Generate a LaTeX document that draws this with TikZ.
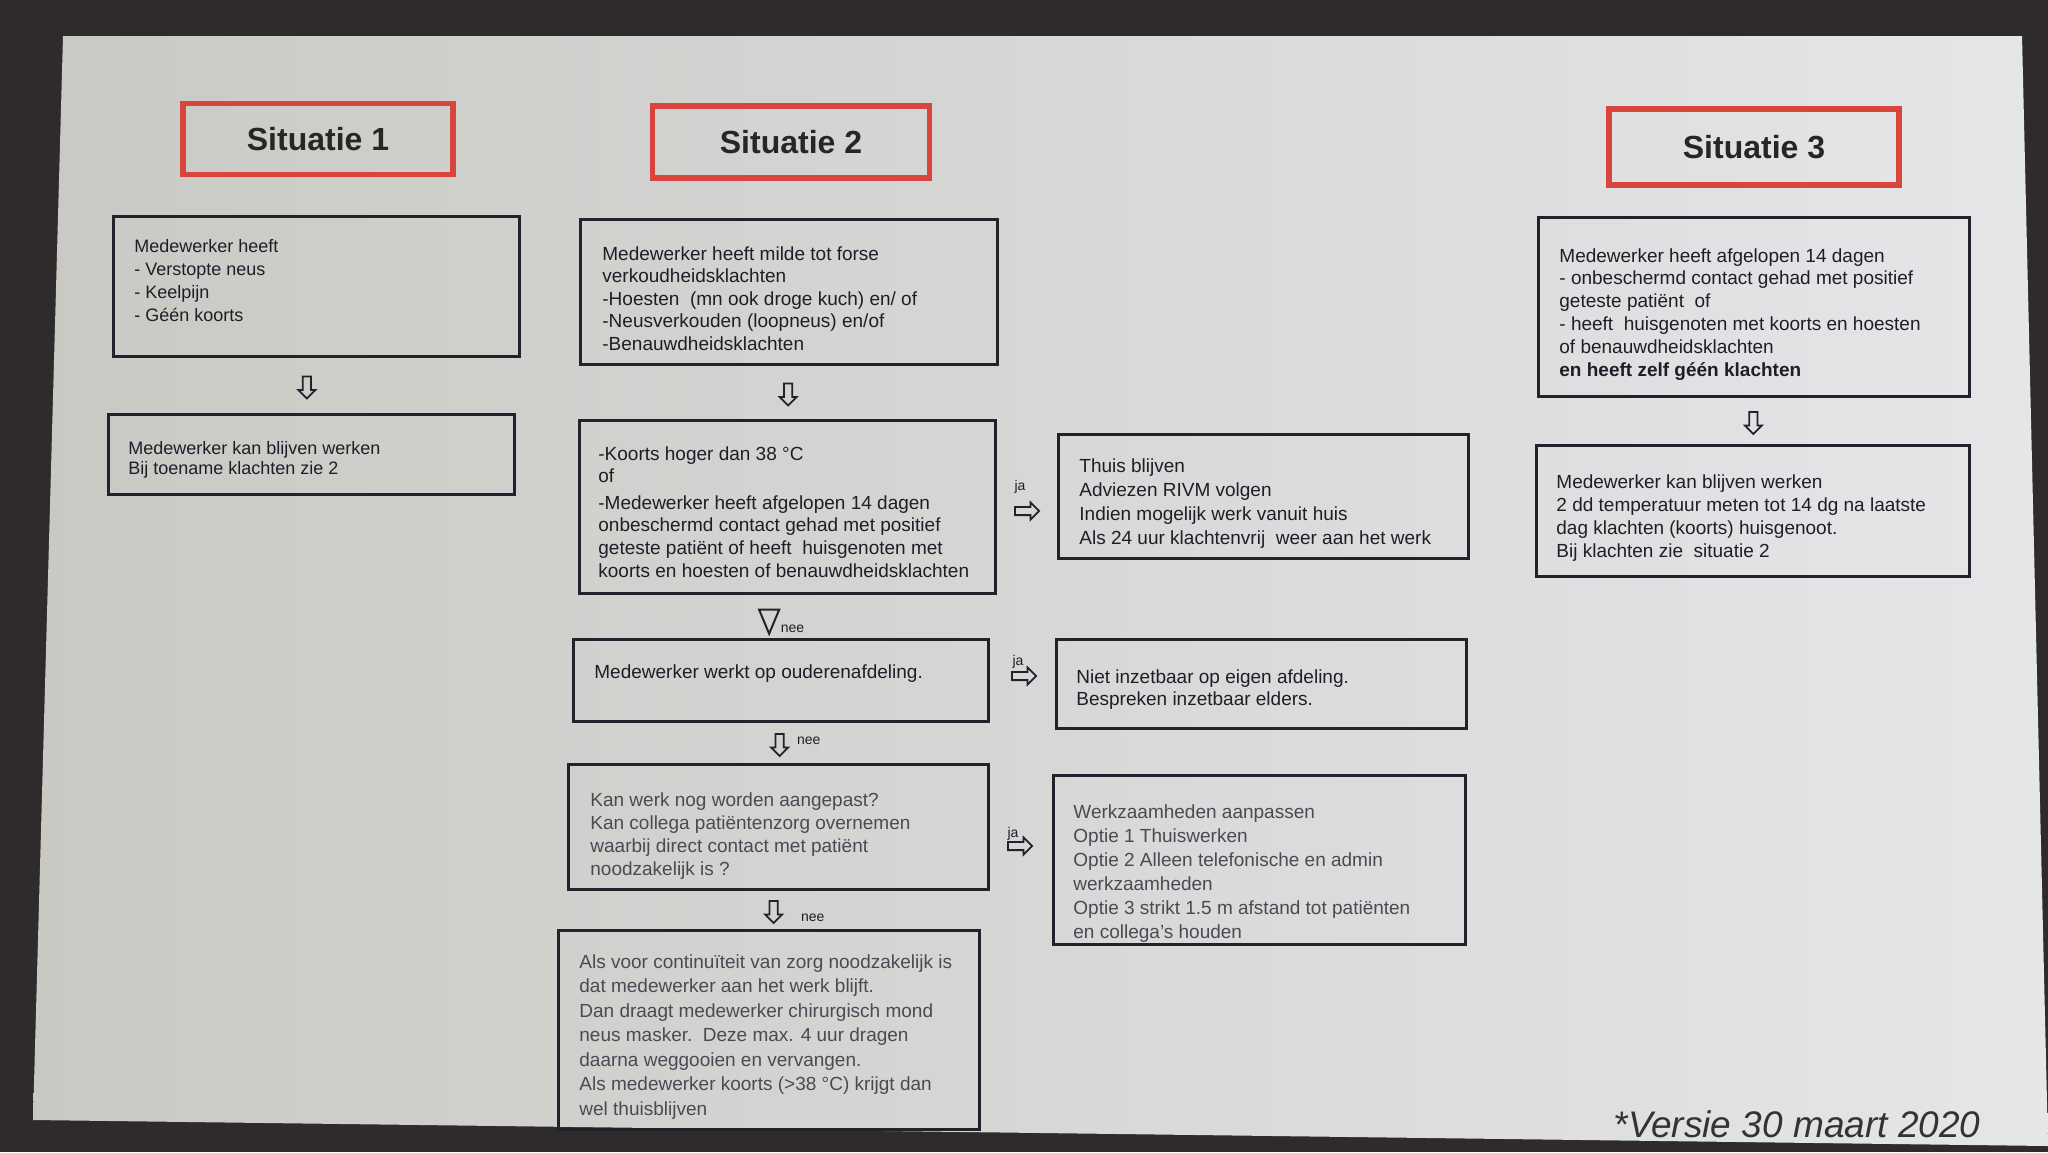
\documentclass[tikz,border=0pt]{standalone}
\usepackage{fontspec}
\setmainfont{Liberation Sans}
\usetikzlibrary{shapes.arrows,shapes.geometric,calc}
\definecolor{bezel}{HTML}{2F2B2D}
\definecolor{scrL}{HTML}{C9C9C4}
\definecolor{scrM}{HTML}{D9D9D6}
\definecolor{scrR}{HTML}{E4E6E8}
\definecolor{ink}{HTML}{1E1E28}
\definecolor{inkl}{HTML}{4A4A54}
\definecolor{redline}{HTML}{D8453C}
\definecolor{boxline}{HTML}{22222C}
% width, height, top pad, font size, leading, text
\newcommand\bxt[6]{\parbox[c][#2][t]{#1}{\vspace*{#3}\fontsize{#4}{#5}\selectfont\raggedright #6}}
\tikzset{
  box/.style={draw=boxline, line width=1.4pt, inner ysep=0pt, anchor=north west, text=ink},
  lightbox/.style={box, text=inkl},
  title/.style={draw=redline, line width=2.6pt, font=\fontsize{16}{19}\selectfont\bfseries, text=black!85, inner sep=0pt},
  darr/.style={single arrow, draw=boxline, line width=0.9pt, inner sep=1.6pt, single arrow head extend=2.2pt, minimum height=11pt, shape border rotate=270},
  rarr/.style={single arrow, draw=boxline, line width=0.9pt, inner sep=1.6pt, single arrow head extend=2.2pt, minimum height=12pt, shape border rotate=0},
  tri/.style={isosceles triangle, isosceles triangle stretches, draw=boxline, line width=1pt, minimum width=10pt, minimum height=12pt, inner sep=0pt, shape border rotate=270},
  lbl/.style={font=\fontsize{7}{8}\selectfont, text=ink, inner sep=0pt}
}
\begin{document}
\begin{tikzpicture}[x=0.5pt,y=-0.5pt]
\useasboundingbox (0,0) rectangle (2048,1152);
\fill[bezel] (0,0) rectangle (2048,1152);
\shade[left color=scrL, middle color=scrM, right color=scrR] (63,36) -- (2022,36) -- (2048,1146) -- (33,1120) -- cycle;

% titles
\node[title, minimum width=135pt, minimum height=35.5pt] (s1) at (318,139) {Situatie 1};
\node[title, minimum width=138.5pt, minimum height=36pt] (s2) at (791,142) {Situatie 2};
\node[title, minimum width=145pt, minimum height=38pt] (s3) at (1754,147) {Situatie 3};

% situatie 1
\node[box, inner xsep=10.5pt] (b1a) at (112,215) {\bxt{182pt}{70pt}{11.5pt}{9}{11.5}{Medewerker heeft\\- Verstopte neus\\- Keelpijn\\- Géén koorts}};
\node[box, inner xsep=10pt] (b1b) at (107,413) {\bxt{183pt}{40pt}{13.5pt}{9}{10}{Medewerker kan blijven werken\\Bij toename klachten zie 2}};

% situatie 2
\node[box, inner xsep=11pt] (b2a) at (579,218) {\bxt{186.5pt}{72.5pt}{13.5pt}{9.5}{11.25}{Medewerker heeft milde tot forse\\verkoudheidsklachten\\-Hoesten\ \ (mn ook droge kuch) en/ of\\-Neusverkouden (loopneus) en/of\\-Benauwdheidsklachten}};
\node[box, inner xsep=9.5pt] (b2b) at (578,419) {\bxt{189pt}{86.5pt}{13pt}{9.5}{11.3}{-Koorts hoger dan 38 °C\\of\\[2pt]-Medewerker heeft afgelopen 14 dagen\\onbeschermd contact gehad met positief\\geteste patiënt of heeft\ \ huisgenoten met\\koorts en hoesten of benauwdheidsklachten}};
\node[box, inner xsep=10.5pt] (b2c) at (572,638) {\bxt{186.5pt}{41pt}{12.5pt}{9.5}{11.5}{Medewerker werkt op ouderenafdeling.}};
\node[lightbox, inner xsep=11pt] (b2d) at (567,763) {\bxt{188pt}{62.5pt}{14pt}{9.5}{11.5}{Kan werk nog worden aangepast?\\Kan collega patiëntenzorg overnemen\\waarbij direct contact met patiënt\\noodzakelijk is ?}};
\node[lightbox, inner xsep=10.5pt] (b2e) at (557,929) {\bxt{189.5pt}{99.5pt}{12pt}{9.5}{12.25}{Als voor continuïteit van zorg noodzakelijk is\\dat medewerker aan het werk blijft.\\Dan draagt medewerker chirurgisch mond\\neus masker.\ \ Deze max. 4 uur dragen\\daarna weggooien en vervangen.\\Als medewerker koorts (>38 °C) krijgt dan\\wel thuisblijven}};

% middle right column
\node[box, inner xsep=10.5pt] (b3a) at (1057,433) {\bxt{184pt}{62pt}{12pt}{9.5}{12}{Thuis blijven\\Adviezen RIVM volgen\\Indien mogelijk werk vanuit huis\\Als 24 uur klachtenvrij\ \ weer aan het werk}};
\node[box, inner xsep=10pt] (b3b) at (1055,638) {\bxt{185pt}{44.5pt}{15pt}{9.5}{11}{Niet inzetbaar op eigen afdeling.\\Bespreken inzetbaar elders.}};
\node[lightbox, inner xsep=10pt] (b3c) at (1052,774) {\bxt{186pt}{84.5pt}{14.5pt}{9.5}{12}{Werkzaamheden aanpassen\\Optie 1 Thuiswerken\\Optie 2 Alleen telefonische en admin\\werkzaamheden\\Optie 3 strikt 1.5 m afstand tot patiënten\\en collega's houden}};

% situatie 3
\node[box, inner xsep=10.5pt] (b4a) at (1537,216) {\bxt{194.5pt}{89.5pt}{15.5pt}{9.5}{11.4}{Medewerker heeft afgelopen 14 dagen\\- onbeschermd contact gehad met positief\\geteste patiënt\ \ of\\- heeft\ \ huisgenoten met koorts en hoesten\\of benauwdheidsklachten\\\textbf{en heeft zelf géén klachten}}};
\node[box, inner xsep=10pt] (b4b) at (1535,444) {\bxt{196.5pt}{65.5pt}{14.5pt}{9.5}{11.5}{Medewerker kan blijven werken\\2 dd temperatuur meten tot 14 dg na laatste\\dag klachten (koorts) huisgenoot.\\Bij klachten zie\ \ situatie 2}};

% down arrows
\node[darr] (a1) at ($(b1a.south)!0.5!(b1b.north)+(-7,0)$) {};
\node[darr] (a2) at ($(b2a.south)!0.5!(b2b.north)$) {};
\node[tri] (a3) at ($(b2b.south)!0.5!(b2c.north)+(-15,0)$) {};
\node[lbl, anchor=west] (n3) at ($(a3.east)+(3,12)$) {nee};
\node[darr] (a4) at ($(b2c.south)!0.5!(b2d.north)$) {};
\node[lbl, anchor=west] (n4) at ($(a4.east)+(12,-2)$) {nee};
\node[darr] (a5) at ($(b2d.south)!0.5!(b2e.north)$) {};
\node[lbl, anchor=west] (n5) at ($(a5.east)+(22,8)$) {nee};
\node[darr] (a6) at ($(b4a.south)!0.5!(b4b.north)$) {};

% right arrows
\node[rarr] (r1) at (1025,511) {};
\node[lbl] (j1) at (1020,487) {ja};
\node[rarr] (r2) at (1022,676) {};
\node[lbl] (j2) at (1018,662) {ja};
\node[rarr] (r3) at (1018,846) {};
\node[lbl] (j3) at (1013,834) {ja};

% version
\node[font=\fontsize{18.5}{20}\selectfont\itshape, text=black!80, inner sep=0pt] (ver) at (1797,1124) {*Versie 30 maart 2020};
\end{tikzpicture}
\end{document}
